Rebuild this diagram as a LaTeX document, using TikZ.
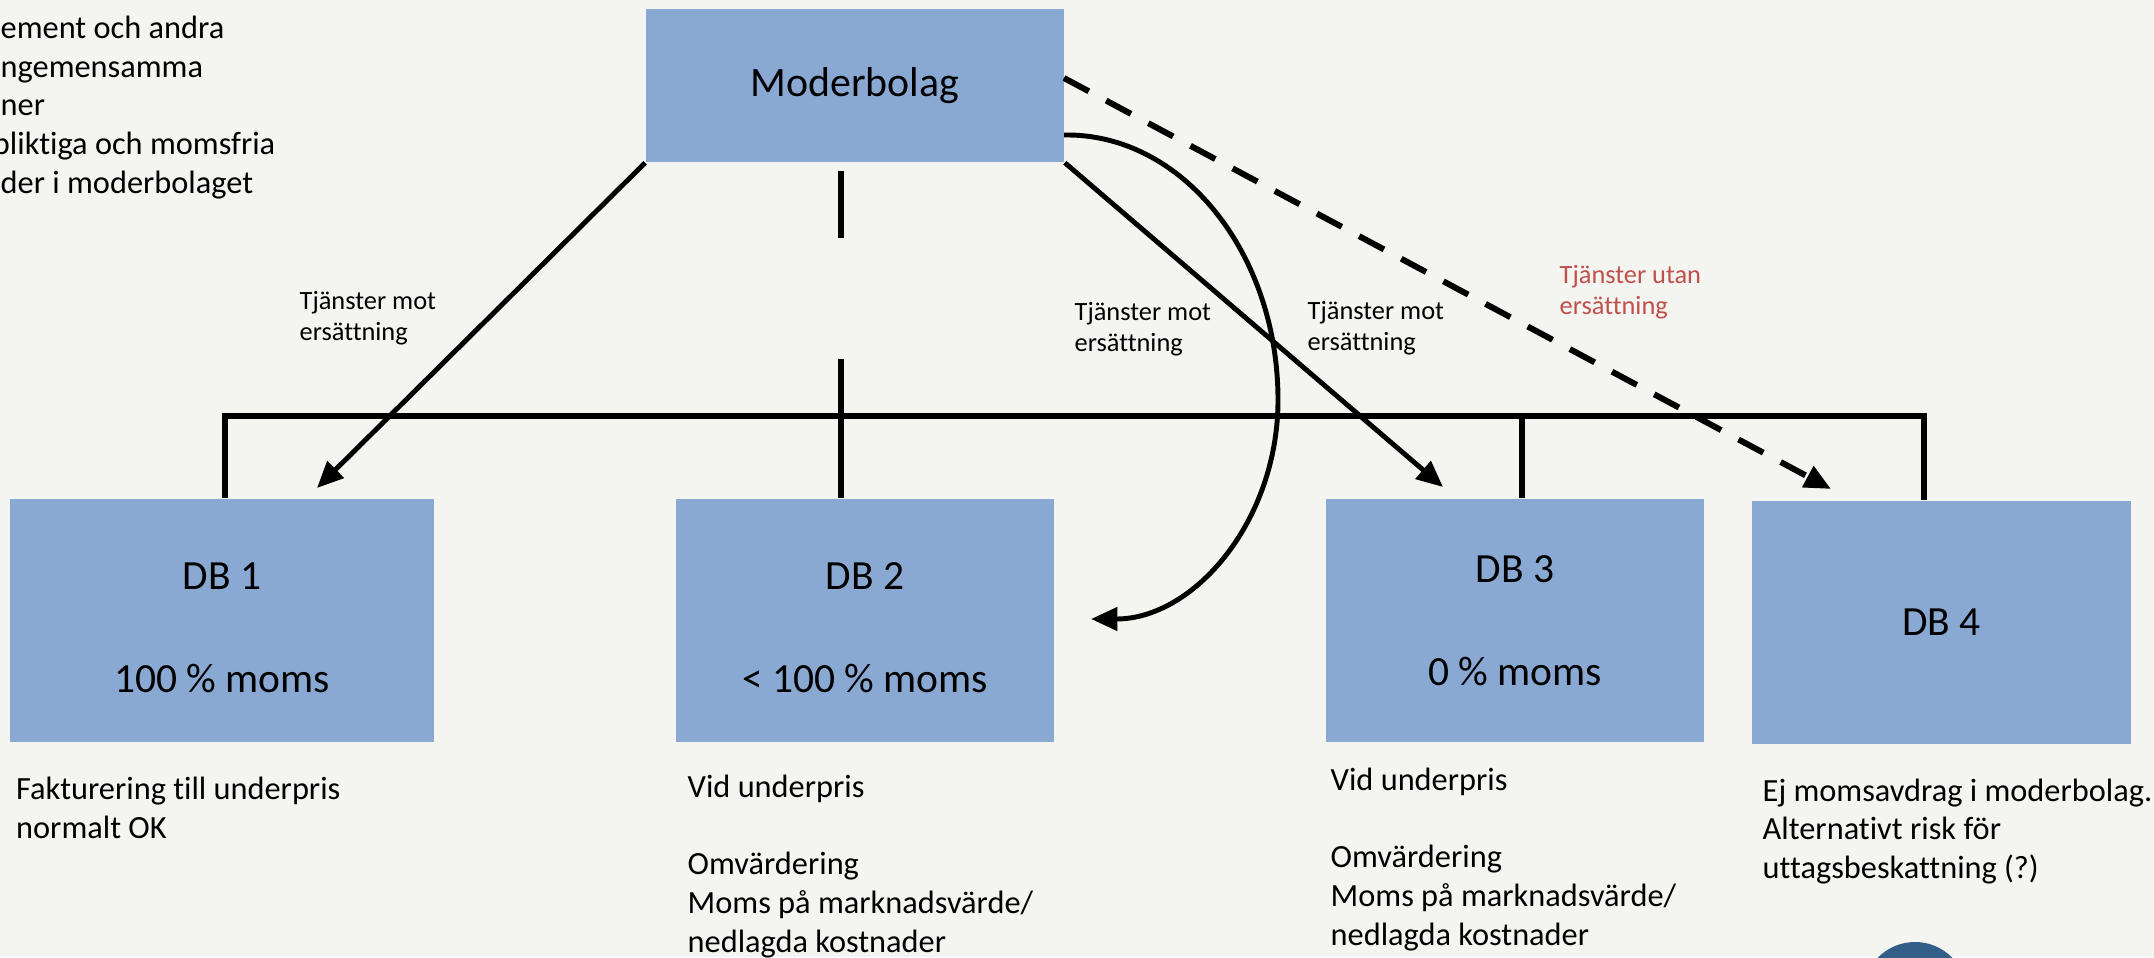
\documentclass[tikz,border=0pt]{standalone}
\usepackage{fontspec}
\setmainfont{Carlito}[Ligatures=NoCommon]
\usetikzlibrary{
  arrows.meta,
  positioning,  % relative placement
  calc,         % calculations $...$
}
\definecolor{bgcol}{RGB}{244,244,240}
\definecolor{boxcol}{RGB}{137,169,211}
\definecolor{redcol}{RGB}{192,80,77}
\definecolor{dotcol}{RGB}{50,94,136}
\tikzset{
  >={Triangle[length=7.5pt,width=6.5pt]},
  my box/.style={
    rectangle,
    fill=boxcol,
    draw=none,
    align=center,
    inner sep=0pt,
    minimum height=2.43cm,
    font=\fontsize{11.8}{14.6}\selectfont
  },
  % multi-line texts: base = last line
  my text/.style={
    anchor=base west,
    align=left,
    inner sep=0pt,
    font=\fontsize{9.2}{10.95}\selectfont
  },
  my label/.style={
    anchor=base west,
    align=left,
    inner sep=0pt,
    font=\fontsize{7.5}{8.8}\selectfont
  },
  my line/.style={
    line width=1.85pt
  },
  my arrow/.style={
    ->,
    line width=1.4pt
  },
  my dashed/.style={
    ->,
    line width=1.7pt,
    dash pattern=on 8pt off 5.6pt
  }
}

\begin{document}
\begin{tikzpicture}[x=0.01cm,y=-0.01cm]
\clip (0,0) rectangle (2154,957);
\fill[bgcol] (0,0) rectangle (2154,957);
% companies
\node[my box,minimum width=4.18cm,minimum height=1.53cm,font=\fontsize{11.9}{14.5}\selectfont]
                   (mb)  at (855,85.5)    {Moderbolag};
\node[my box,minimum width=4.24cm] (db1) at (222,620.5)  {\rule{0pt}{11.6pt}DB 1\\[14.6pt]100 \% moms};
\node[my box,minimum width=3.78cm] (db2) at (865,620.5)  {\rule{0pt}{11.6pt}DB 2\\[14.6pt]< 100 \% moms};
\node[my box,minimum width=3.78cm] (db3) at (1515,620.5) {DB 3\\[14.6pt]0 \% moms};
\node[my box,minimum width=3.79cm] (db4) at (1941.5,622.5) {DB 4};
% free ends
\coordinate (a1)   at (317,488);
\coordinate (a3)   at (1443,487);
\coordinate (a4)   at (1831,489);
\coordinate (ds)   at (1064,78);
\coordinate (cs)   at (1064,135);
\coordinate (cm)   at (1278,400);
\coordinate (ce)   at (1091,619);
\coordinate (busl) at (225,416);
\coordinate (busr) at (1924,416);
\coordinate (bus3) at (1522,416);
\coordinate (mid1) at (841,171);
\coordinate (mid2) at (841,238);
\coordinate (mid3) at (841,359);
% group lines
\draw[my line] (db1.north -| busl) -- (busl) -- (busr) -- (db4.north -| busr);
\draw[my line] (bus3) -- (db3.north -| bus3);
\draw[my line] (mid1) -- (mid2) (mid3) -- (db2.north -| mid3);
% services
\path[my arrow] (mb.south west) edge (a1)
                (mb.south east) edge (a3);
\path (ds) edge[my dashed] (a4);
\draw[my arrow] (cs) .. controls (1182,133) and (1278,253) .. (cm)
                     .. controls (1278,521) and (1194,619) .. (ce);
% labels
\node[my label] (l1) at (299,340)  {Tjänster mot\\ersättning};
\node[my label] (l2) at (1074,351) {Tjänster mot\\ersättning};
\node[my label] (l3) at (1307,350) {Tjänster mot\\ersättning};
\node[my label,text=redcol] (l4) at (1559,314) {Tjänster utan\\ersättning};
% notes
\node[my text] (note) at (0,193) {ement och andra\\ngemensamma\\ner\\\hspace*{-2.2pt}pliktiga och momsfria\\der i moderbolaget};
\node[my text] (t1) at (15.5,838) {Fakturering till underpris\\normalt OK};
\node[my text] (t2) at (687,952)  {Vid underpris\\[10.95pt]Omvärdering\\Moms på marknadsvärde/\\nedlagda kostnader};
\node[my text] (t3) at (1330,945) {Vid underpris\\[10.95pt]Omvärdering\\Moms på marknadsvärde/\\nedlagda kostnader};
\node[my text] (t4) at (1762,878) {Ej momsavdrag i moderbolag.\\Alternativt risk för\\uttagsbeskattning (?)};
\fill[dotcol] (1915,994) circle (52);
\end{tikzpicture}
\end{document}
